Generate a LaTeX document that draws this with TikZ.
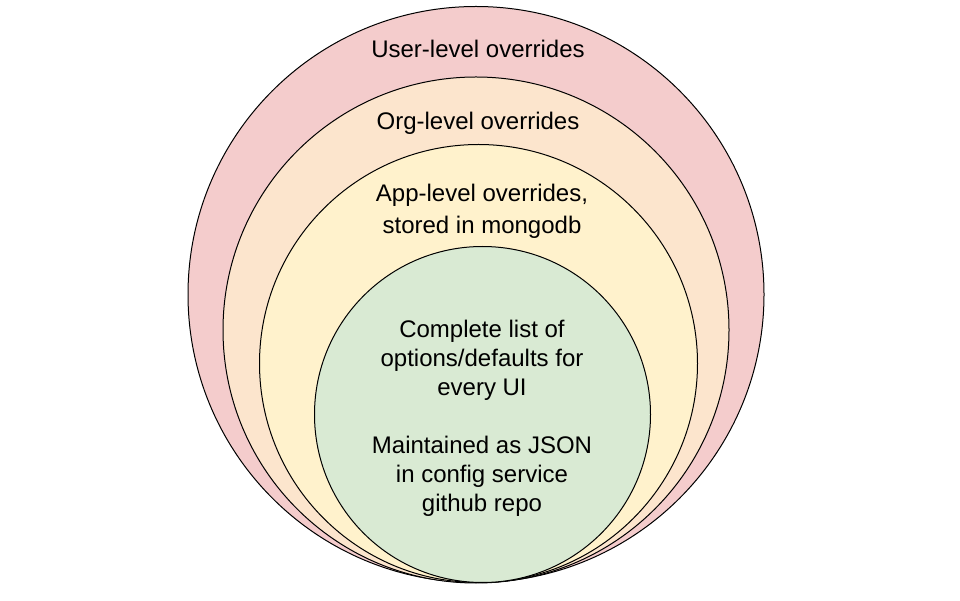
\documentclass[tikz,border=0pt]{standalone}
\usepackage{fontspec}
\setmainfont{Liberation Sans}
\definecolor{userpink}{HTML}{F4CCCC}
\definecolor{orgpeach}{HTML}{FCE5CD}
\definecolor{appyellow}{HTML}{FFF2CC}
\definecolor{basegreen}{HTML}{D9EAD3}

\begin{document}
\begin{tikzpicture}[x=0.75pt,y=0.75pt,
  ring/.style={shape=circle,draw=black,line width=0.75pt,inner sep=0pt},
  lbl/.style={align=center,font=\fontsize{18}{21.75}\selectfont}]
\useasboundingbox (0,0) rectangle (960,600);
\node[ring,fill=userpink,minimum size=432pt] (user) at (476,305.5) {};
\node[ring,fill=orgpeach,minimum size=379.5pt] (org) at (476,270) {};
\node[ring,fill=appyellow,minimum size=328.5pt] (app) at (478.5,236.5) {};
\node[ring,fill=basegreen,minimum size=252pt] (base) at (482.5,185.5) {};
\node[lbl] (userlbl) at (478,551) {User-level overrides};
\node[lbl] (orglbl) at (478,476.5) {Org-level overrides};
\node[lbl] (applbl) at (482,389) {App-level overrides,\\[2pt]stored in mongodb};
\node[lbl] (baselbl) at (482,182) {Complete list of\\options/defaults for\\every UI\\[21.75pt]Maintained as JSON\\in config service\\github repo};
\end{tikzpicture}
\end{document}
